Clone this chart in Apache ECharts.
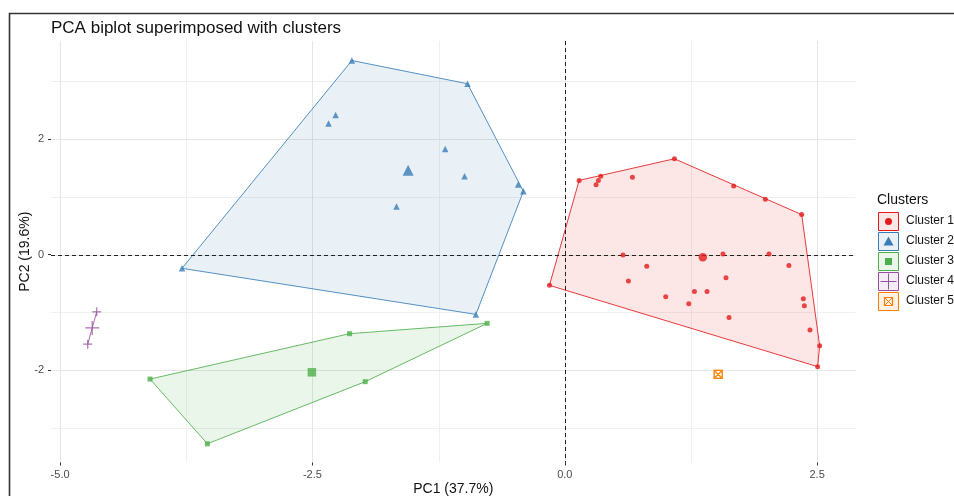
<!DOCTYPE html>
<html>
<head>
<meta charset="utf-8">
<script src="https://cdn.jsdelivr.net/npm/echarts@6/dist/echarts.min.js"></script>
<style>
  html, body { margin: 0; padding: 0; background: #fff; }
  #chart { width: 954px; height: 496px; }
</style>
</head>
<body>
<div id="chart"></div>
<script>
// Axis ticks and grid positions
const xTicks = [-5, -2.5, 0, 2.5];
const yTicks = [-2, 0, 2];
const xMinor = [-3.75, -1.25, 1.25];
const yMinor = [-3, -1, 1, 3];

// Individual scores on PC1 / PC2 for each cluster
const cluster1 = [
  [0.142, 1.286], [0.356, 1.357], [0.333, 1.286], [0.310, 1.210], [0.670, 1.340],
  [1.086, 1.660], [1.673, 1.190], [1.987, 0.960], [2.347, 0.693], [0.577, -0.006],
  [1.567, 0.010], [2.023, 0.010], [0.812, -0.200], [2.220, -0.190], [0.630, -0.456],
  [1.597, -0.400], [1.284, -0.640], [1.409, -0.640], [1.000, -0.728], [1.228, -0.850],
  [2.363, -0.763], [2.373, -0.884], [1.627, -1.090], [2.429, -1.305], [2.525, -1.577],
  [2.505, -1.940], [-0.152, -0.532]
];
const cluster2 = [
  [-2.109, 3.362], [-0.964, 2.960], [-0.462, 1.213], [-0.410, 1.097], [-0.881, -1.035],
  [-3.792, -0.237], [-2.270, 2.420], [-2.340, 2.270], [-1.185, 1.830], [-0.993, 1.357],
  [-1.667, 0.832]
];
const cluster3 = [
  [-4.109, -2.155], [-3.541, -3.276], [-2.132, -1.369], [-1.977, -2.200], [-0.769, -1.190]
];
const cluster4 = [
  [-4.637, -0.990], [-4.726, -1.550]
];
const cluster5 = [
  [1.520, -2.074]
];

const clusterNames = ['Cluster 1', 'Cluster 2', 'Cluster 3', 'Cluster 4', 'Cluster 5'];
const clusterColors = ['#E41A1C', '#377EB8', '#4DAF4A', '#984EA3', '#FF7F00'];
const clusterFills = ['rgba(228,26,28,0.11)', 'rgba(55,126,184,0.11)', 'rgba(77,175,74,0.11)',
                      'rgba(152,78,163,0.11)', 'rgba(255,127,0,0.11)'];
const clusters = [cluster1, cluster2, cluster3, cluster4, cluster5];

const FONT = 'Liberation Sans, Arial, sans-serif';
const CROSS = 'path://M0,5L10,5M5,0L5,10';
const SQUARE_X = 'path://M0,0L10,0L10,10L0,10ZM0,0L10,10M10,0L0,10';

const pointSymbols = ['circle', 'triangle', 'rect', CROSS, SQUARE_X];
const pointSizes = [5, 6.5, 5, 9, 8];
const centroidSizes = [8.5, 11, 8.5, 14, 8];

// Convex hull (monotone chain)
function convexHull(points) {
  const p = points.slice().sort((a, b) => a[0] - b[0] || a[1] - b[1]);
  if (p.length < 3) return p;
  const cross = (o, a, b) => (a[0] - o[0]) * (b[1] - o[1]) - (a[1] - o[1]) * (b[0] - o[0]);
  const lower = [];
  for (const pt of p) {
    while (lower.length >= 2 && cross(lower[lower.length - 2], lower[lower.length - 1], pt) <= 0) lower.pop();
    lower.push(pt);
  }
  const upper = [];
  for (let i = p.length - 1; i >= 0; i--) {
    const pt = p[i];
    while (upper.length >= 2 && cross(upper[upper.length - 2], upper[upper.length - 1], pt) <= 0) upper.pop();
    upper.push(pt);
  }
  upper.pop(); lower.pop();
  return lower.concat(upper);
}

function centroid(points) {
  const n = points.length;
  return [points.reduce((s, q) => s + q[0], 0) / n, points.reduce((s, q) => s + q[1], 0) / n];
}

const series = [];

// Background grid lines
function gridSeries(xs, ys, color, width) {
  return {
    type: 'custom', silent: true, z: 0, data: [[0, 0]],
    renderItem: (params, api) => {
      const cs = params.coordSys;
      const children = [];
      xs.forEach(v => {
        const x = Math.round(api.coord([v, 0])[0]) + 0.5;
        children.push({ type: 'line', shape: { x1: x, y1: cs.y, x2: x, y2: cs.y + cs.height },
          style: { stroke: color, lineWidth: width } });
      });
      ys.forEach(v => {
        const y = Math.round(api.coord([0, v])[1]) + 0.5;
        children.push({ type: 'line', shape: { x1: cs.x, y1: y, x2: cs.x + cs.width, y2: y },
          style: { stroke: color, lineWidth: width } });
      });
      return { type: 'group', children };
    }
  };
}
series.push(gridSeries(xMinor, yMinor, '#f0f0f0', 1));
series.push(gridSeries(xTicks, yTicks, '#e6e6e6', 1));

// Cluster hulls
clusters.forEach((pts, i) => {
  const hull = convexHull(pts);
  if (hull.length < 2) return;
  series.push({
    type: 'custom', silent: true, z: 2, data: [[0, 0]],
    renderItem: (params, api) => {
      const coords = hull.map(q => api.coord(q));
      if (coords.length === 2) {
        return { type: 'polyline', shape: { points: coords },
          style: { stroke: clusterColors[i], lineWidth: 1, opacity: 0.85, fill: null } };
      }
      return { type: 'polygon', shape: { points: coords },
        style: { fill: clusterFills[i], stroke: clusterColors[i], lineWidth: 1, strokeOpacity: 0.85 } };
    }
  });
});

// Dashed reference lines through the origin
series.push({
  type: 'custom', silent: true, z: 3, data: [[0, 0]],
  renderItem: (params, api) => {
    const cs = params.coordSys;
    const o = api.coord([0, 0]);
    const x = Math.round(o[0]) + 0.5, y = Math.round(o[1]) + 0.5;
    return { type: 'group', children: [
      { type: 'line', shape: { x1: x, y1: cs.y, x2: x, y2: cs.y + cs.height },
        style: { stroke: '#222', lineWidth: 1, lineDash: [4, 3] } },
      { type: 'line', shape: { x1: cs.x, y1: y, x2: cs.x + cs.width, y2: y },
        style: { stroke: '#222', lineWidth: 1, lineDash: [4, 3] } }
    ] };
  }
});

// Points and centroids
clusters.forEach((pts, i) => {
  const isLine = i >= 3;
  const itemStyle = isLine
    ? { color: 'rgba(0,0,0,0)', borderColor: clusterColors[i], borderWidth: 1.2 }
    : { color: clusterColors[i] };
  series.push({
    name: clusterNames[i], type: 'scatter', z: 4, silent: true,
    symbol: pointSymbols[i], symbolSize: pointSizes[i],
    itemStyle, data: pts
  });
  series.push({
    name: clusterNames[i], type: 'scatter', z: 5, silent: true,
    symbol: pointSymbols[i], symbolSize: centroidSizes[i],
    itemStyle, data: [centroid(pts)]
  });
});

// Legend keys
const legendItems = [];
legendItems.push({ type: 'text', left: 877, top: 193,
  style: { text: 'Clusters', font: '14px ' + FONT, fill: '#111' } });
clusterNames.forEach((name, i) => {
  const top = 212 + 20 * i;
  const cx = 888.5, cy = top + 9.5;
  const c = clusterColors[i];
  legendItems.push({ type: 'rect', shape: { x: 878.5, y: top + 0.5, width: 20, height: 18 },
    style: { fill: clusterFills[i], stroke: c, lineWidth: 1 } });
  let sym;
  if (i === 0) sym = { type: 'circle', shape: { cx, cy, r: 3.5 }, style: { fill: c } };
  else if (i === 1) sym = { type: 'polygon', shape: { points: [[cx, cy - 5], [cx + 5, cy + 4], [cx - 5, cy + 4]] }, style: { fill: c } };
  else if (i === 2) sym = { type: 'rect', shape: { x: cx - 3.5, y: cy - 3.5, width: 7, height: 7 }, style: { fill: c } };
  else if (i === 3) sym = { type: 'group', children: [
    { type: 'line', shape: { x1: cx - 8, y1: cy, x2: cx + 8, y2: cy }, style: { stroke: c, lineWidth: 1 } },
    { type: 'line', shape: { x1: cx, y1: cy - 8, x2: cx, y2: cy + 8 }, style: { stroke: c, lineWidth: 1 } }
  ] };
  else sym = { type: 'group', children: [
    { type: 'rect', shape: { x: cx - 4, y: cy - 4, width: 8, height: 8 }, style: { fill: null, stroke: c, lineWidth: 1.2 } },
    { type: 'line', shape: { x1: cx - 4, y1: cy - 4, x2: cx + 4, y2: cy + 4 }, style: { stroke: c, lineWidth: 1 } },
    { type: 'line', shape: { x1: cx + 4, y1: cy - 4, x2: cx - 4, y2: cy + 4 }, style: { stroke: c, lineWidth: 1 } }
  ] };
  legendItems.push(sym);
  legendItems.push({ type: 'text', left: 906, top: top + 3,
    style: { text: name, font: '12px ' + FONT, fill: '#111' } });
});

// Outer frame
legendItems.push({ type: 'polyline', silent: true,
  shape: { points: [[9.5, 496], [9.5, 13.5], [954, 13.5]] },
  style: { stroke: '#333', lineWidth: 1.6, fill: null } });

const chart = echarts.init(document.getElementById('chart'), null, { renderer: 'canvas' });
chart.setOption({
  backgroundColor: '#ffffff',
  animation: false,
  textStyle: { fontFamily: FONT },
  title: {
    text: 'PCA biplot superimposed with clusters', left: 51, top: 20, padding: 0,
    textStyle: { fontSize: 17, fontWeight: 'normal', color: '#111', fontFamily: FONT }
  },
  grid: { left: 51, top: 41, width: 804.5, height: 421.5, outerBoundsMode: 'none', containLabel: false },
  xAxis: {
    type: 'value', min: -5.09, max: 2.88,
    name: 'PC1 (37.7%)', nameLocation: 'middle', nameGap: 20, nameMoveOverlap: false,
    nameTextStyle: { fontSize: 14, color: '#111', fontFamily: FONT },
    axisLine: { show: false, onZero: false },
    splitLine: { show: false },
    axisTick: { show: true, length: 3, customValues: xTicks, lineStyle: { color: '#333' } },
    axisLabel: { customValues: xTicks, margin: 7, fontSize: 11, color: '#4d4d4d',
      formatter: v => v.toFixed(1) }
  },
  yAxis: {
    type: 'value', min: -3.6, max: 3.7,
    name: 'PC2 (19.6%)', nameLocation: 'middle', nameGap: 19, nameMoveOverlap: false,
    nameTextStyle: { fontSize: 14, color: '#111', fontFamily: FONT },
    axisLine: { show: false, onZero: false },
    splitLine: { show: false },
    axisTick: { show: true, length: 3, customValues: yTicks, lineStyle: { color: '#333' } },
    axisLabel: { customValues: yTicks, margin: 7, fontSize: 11, color: '#4d4d4d',
      formatter: v => String(v) }
  },
  graphic: legendItems,
  series
});
</script>
</body>
</html>
